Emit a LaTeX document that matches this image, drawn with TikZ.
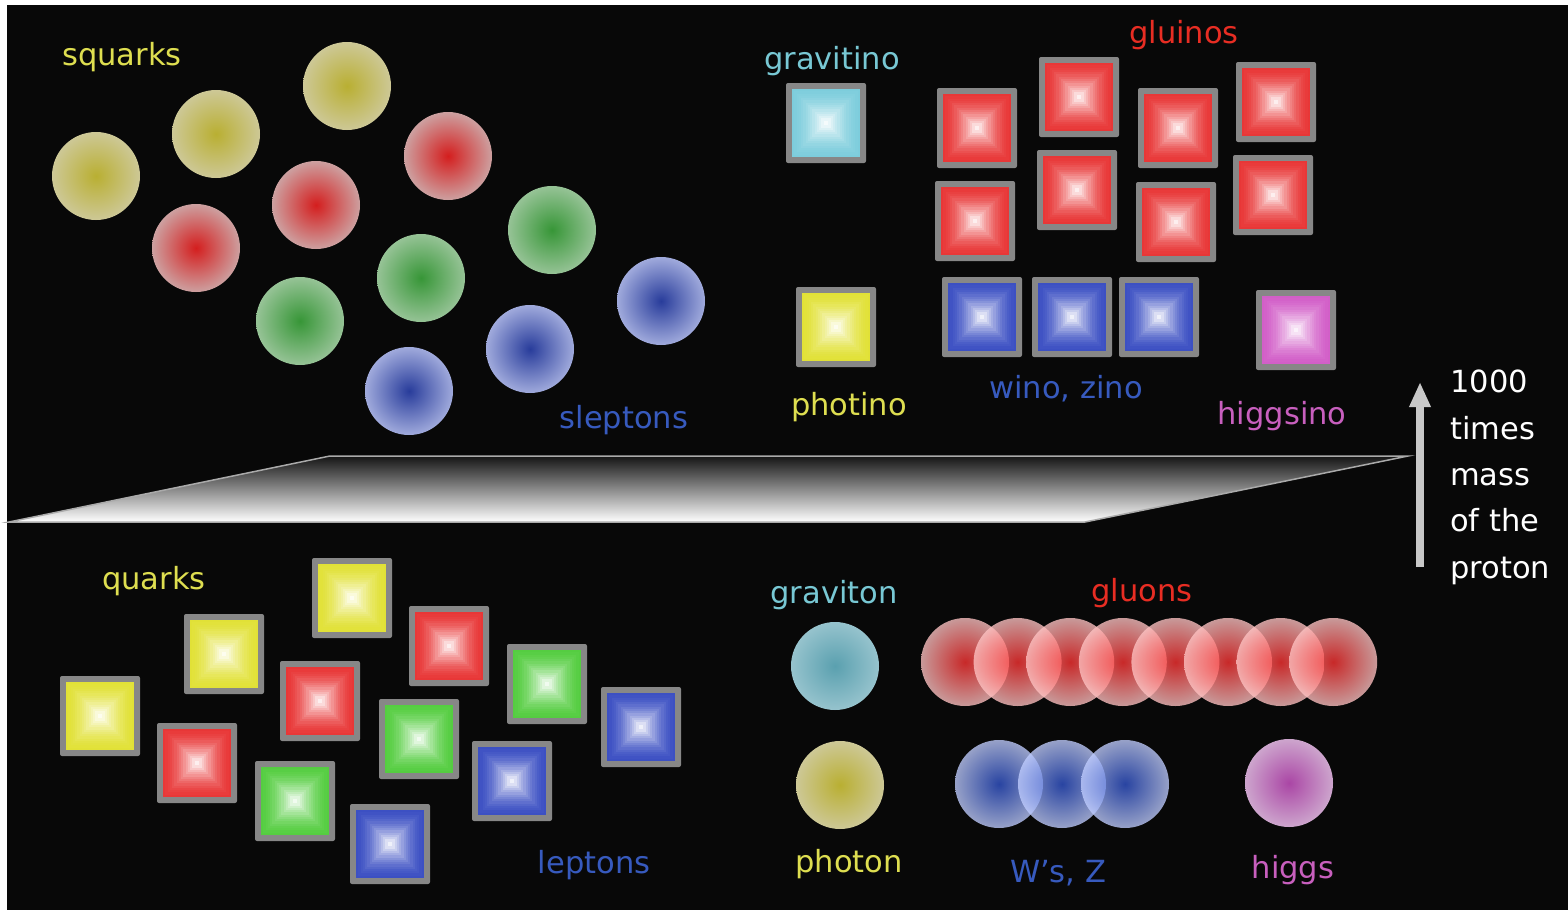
\documentclass[tikz,border=0pt]{standalone}
\usepackage{fontspec}
\setmainfont{DejaVu Sans}
\usetikzlibrary{arrows.meta}

% text colours
\definecolor{bg}{RGB}{8,8,8}
\definecolor{tyellow}{RGB}{222,222,80}
\definecolor{tred}{RGB}{232,45,35}
\definecolor{tcyan}{RGB}{120,200,212}
\definecolor{tblue}{RGB}{55,90,190}
\definecolor{tpink}{RGB}{200,95,190}
% square colours
\definecolor{qred}{RGB}{232,55,55}
\definecolor{qyellow}{RGB}{225,225,55}
\definecolor{qgreen}{RGB}{85,205,65}
\definecolor{qblue}{RGB}{60,80,195}
\definecolor{qcyan}{RGB}{125,205,220}
\definecolor{qpink}{RGB}{210,95,200}
\definecolor{frame}{RGB}{135,135,135}
% ball colours (centre / rim)
\definecolor{byin}{RGB}{185,175,50}   \definecolor{byout}{RGB}{205,200,150}
\definecolor{brin}{RGB}{212,30,30}    \definecolor{brout}{RGB}{205,160,160}
\definecolor{bgin}{RGB}{55,150,55}    \definecolor{bgout}{RGB}{150,195,150}
\definecolor{bbin}{RGB}{40,60,155}    \definecolor{bbout}{RGB}{160,170,220}
\definecolor{bcin}{RGB}{90,160,175}   \definecolor{bcout}{RGB}{150,195,205}
\definecolor{bpin}{RGB}{170,70,165}   \definecolor{bpout}{RGB}{205,165,205}
\definecolor{gluin}{RGB}{255,50,50}   \definecolor{gluout}{RGB}{255,195,195}
\definecolor{wzin}{RGB}{50,85,205}    \definecolor{wzout}{RGB}{192,205,255}
\definecolor{arrowgray}{RGB}{200,200,200}
\definecolor{edgegray}{RGB}{170,170,170}

\tikzset{
  ball/.style 2 args={circle, minimum size=88pt, inner sep=0pt, draw=none,
    inner color=#1, outer color=#2},
  glass/.style={fill opacity=0.78},
  sqframe/.style={rectangle, minimum size=80pt, inner sep=0pt,
    fill=frame, rounded corners=2pt},
  lbl/.style={font=\fontsize{30.5}{36}\selectfont, anchor=base, inner sep=0pt},
}

% square particle: grey frame with a stepped pyramid fill
\newcommand\pyrbox[4]{%
  \node[sqframe] (#1) at (#2,#3) {};
  \foreach \k in {0,...,14}{%
    \pgfmathsetmacro\hs{34-\k*34/15}%
    \pgfmathtruncatemacro\pc{100-92*(\k/14)^1.6}%
    \fill[#4!\pc!white] ({#2-\hs},{#3-\hs}) rectangle ({#2+\hs},{#3+\hs});
  }%
}

\begin{document}
\begin{tikzpicture}[x=1pt, y=-1pt]
  % page and dark panel
  \fill[white] (0,0) rectangle (1568,910);
  \useasboundingbox (0,0) rectangle (1568,910);
  \fill[bg] (7,5) rectangle (1568,910);

  % ---------- superpartners ----------
  \node[ball={byin}{byout}] (sy1) at (96,176) {};
  \node[ball={byin}{byout}] (sy2) at (216,134) {};
  \node[ball={byin}{byout}] (sy3) at (347,86) {};
  \node[ball={brin}{brout}] (sr1) at (196,248) {};
  \node[ball={brin}{brout}] (sr2) at (316,205) {};
  \node[ball={brin}{brout}] (sr3) at (448,156) {};
  \node[ball={bgin}{bgout}] (sg1) at (300,321) {};
  \node[ball={bgin}{bgout}] (sg2) at (421,278) {};
  \node[ball={bgin}{bgout}] (sg3) at (552,230) {};
  \node[ball={bbin}{bbout}] (sb1) at (409,391) {};
  \node[ball={bbin}{bbout}] (sb2) at (530,349) {};
  \node[ball={bbin}{bbout}] (sb3) at (661,301) {};

  \pyrbox{gravitino}{826}{123}{qcyan}
  \pyrbox{photino}{836}{327}{qyellow}
  \pyrbox{gl1}{977}{128}{qred}
  \pyrbox{gl2}{1079}{97}{qred}
  \pyrbox{gl3}{1178}{128}{qred}
  \pyrbox{gl4}{1276}{102}{qred}
  \pyrbox{gl5}{975}{221}{qred}
  \pyrbox{gl6}{1077}{190}{qred}
  \pyrbox{gl7}{1176}{222}{qred}
  \pyrbox{gl8}{1273}{195}{qred}
  \pyrbox{wz1}{982}{317}{qblue}
  \pyrbox{wz2}{1072}{317}{qblue}
  \pyrbox{wz3}{1159}{317}{qblue}
  \pyrbox{higgsino}{1296}{330}{qpink}

  \node[lbl, text=tyellow] (lsquarks) at (122,65) {squarks};
  \node[lbl, text=tblue] (lsleptons) at (624,428) {sleptons};
  \node[lbl, text=tcyan] (lgravitino) at (832,69) {gravitino};
  \node[lbl, text=tred] (lgluinos) at (1184,43) {gluinos};
  \node[lbl, text=tyellow] (lphotino) at (849,415) {photino};
  \node[lbl, text=tblue] (lwino) at (1066,398) {wino, zino};
  \node[lbl, text=tpink] (lhiggsino) at (1282,424) {higgsino};

  % ---------- dividing plane ----------
  \shade[top color=black!92, bottom color=white, draw=edgegray, line width=1.5pt]
    (330,456) -- (1408,456) -- (1085,522) -- (9,522) -- cycle;

  % ---------- mass scale ----------
  \coordinate (arrbot) at (1420,567);
  \coordinate (arrtop) at (1420,382);
  \draw[arrowgray, line width=8pt, -{Triangle[width=20pt,length=25pt]}] (arrbot) -- (arrtop);
  \node[font=\fontsize{30.5}{46.3}\selectfont, text=white, align=left,
        anchor=north west, inner sep=0pt] (scale) at (1450,370)
        {1000\\times\\mass\\of the\\proton};

  % ---------- ordinary particles ----------
  \pyrbox{qy1}{100}{716}{qyellow}
  \pyrbox{qy2}{224}{654}{qyellow}
  \pyrbox{qy3}{352}{598}{qyellow}
  \pyrbox{qr1}{197}{763}{qred}
  \pyrbox{qr2}{320}{701}{qred}
  \pyrbox{qr3}{449}{646}{qred}
  \pyrbox{qg1}{295}{801}{qgreen}
  \pyrbox{qg2}{419}{739}{qgreen}
  \pyrbox{qg3}{547}{684}{qgreen}
  \pyrbox{qb1}{390}{844}{qblue}
  \pyrbox{qb2}{512}{781}{qblue}
  \pyrbox{qb3}{641}{727}{qblue}

  \node[ball={bcin}{bcout}] (graviton) at (835,666) {};
  \node[ball={byin}{byout}] (photon) at (840,785) {};
  \foreach \i in {0,...,7}{
    \node[ball={gluin}{gluout}, glass] (gluon\i) at ({965+52.6*\i},662) {};
  }
  \node[ball={wzin}{wzout}, glass] (wz-a) at (999,784) {};
  \node[ball={wzin}{wzout}, glass] (wz-b) at (1062,784) {};
  \node[ball={wzin}{wzout}, glass] (wz-c) at (1125,784) {};
  \node[ball={bpin}{bpout}] (higgs) at (1289,783) {};

  \node[lbl, text=tyellow] (lquarks) at (154,589) {quarks};
  \node[lbl, text=tblue] (lleptons) at (594,873) {leptons};
  \node[lbl, text=tcyan] (lgraviton) at (834,603) {graviton};
  \node[lbl, text=tred] (lgluons) at (1142,601) {gluons};
  \node[lbl, text=tyellow] (lphoton) at (849,872) {photon};
  \node[lbl, text=tblue] (lwz) at (1058,882) {W's, Z};
  \node[lbl, text=tpink] (lhiggs) at (1293,878) {higgs};
\end{tikzpicture}
\end{document}
